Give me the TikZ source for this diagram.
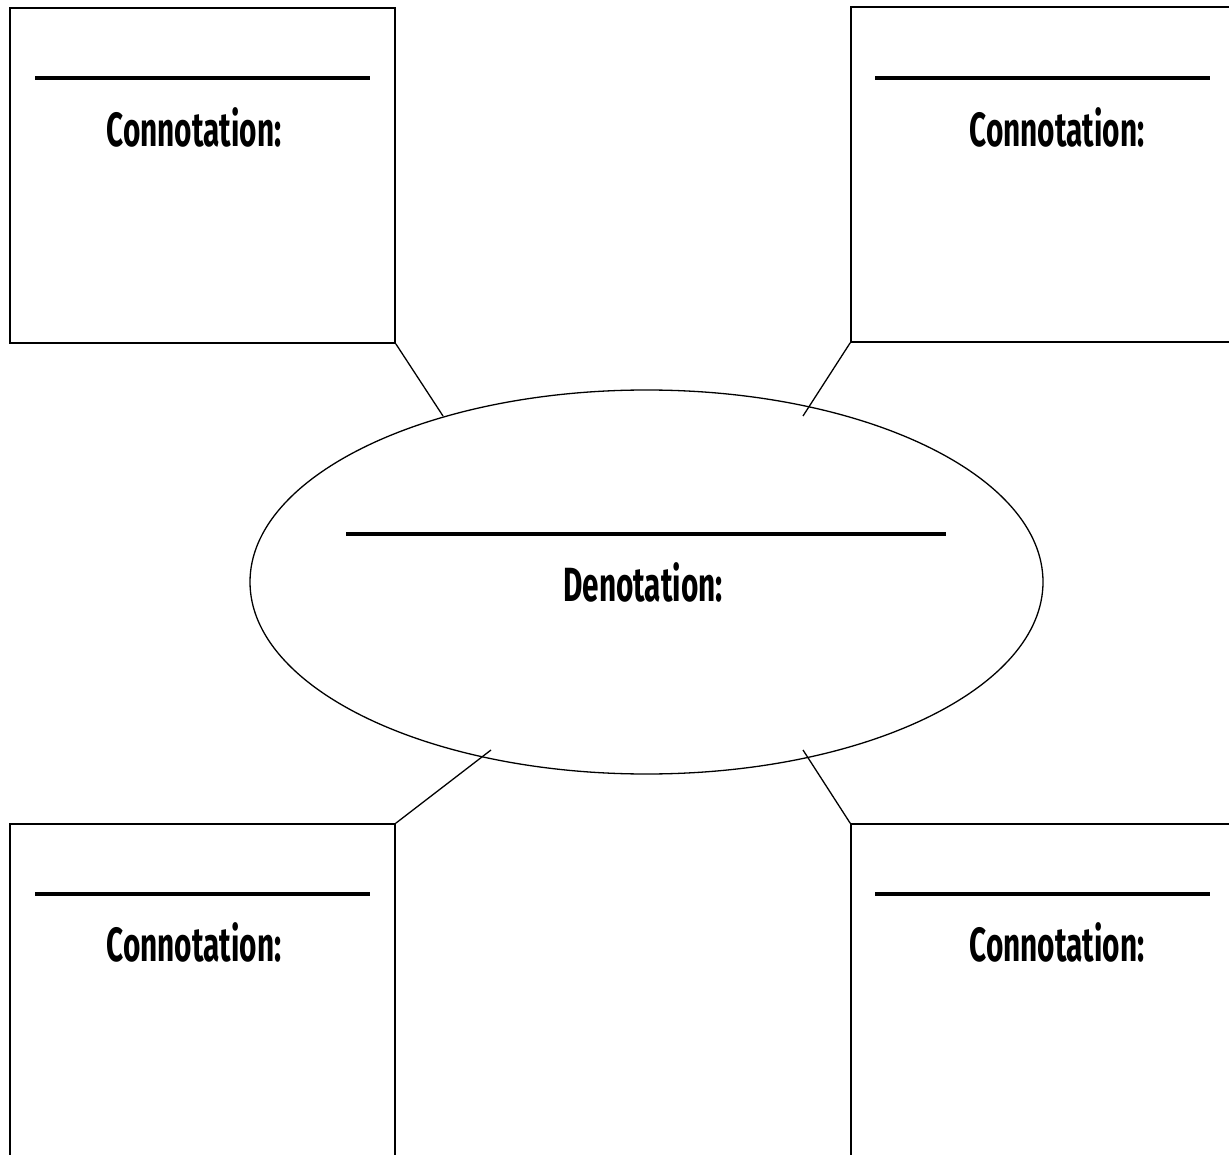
\documentclass[tikz,border=0pt]{standalone}
\usepackage{fontspec}
\setmainfont{Fira Sans}
\usetikzlibrary{shapes.geometric}
\begin{document}
\begin{tikzpicture}[x=1pt,y=-1pt,
    box_node/.style={draw,line width=1.6pt,minimum width=385pt,minimum height=335pt,inner sep=0pt},
    oval_node/.style={draw,ellipse,line width=1.3pt,minimum width=793pt,minimum height=384pt,inner sep=0pt},
    label_node/.style={font=\fontsize{48}{48}\selectfont\bfseries,xscale=0.62,inner sep=0pt},
    rule_line/.style={line width=3.5pt},
    link_line/.style={line width=1.3pt}]
    \useasboundingbox (0,0) rectangle (1229,1155);
    \clip (0,0) rectangle (1229,1155);
    \node[oval_node] (den) at (646.5,582) {};
    \node[box_node] (1) at (202.5,175.5) {};
    \node[box_node] (2) at (1043.5,174.5) {};
    \node[box_node] (3) at (202.5,991.5) {};
    \node[box_node] (4) at (1043.5,991.5) {};
    \coordinate (e1) at (443,416);
    \coordinate (e2) at (803,416);
    \coordinate (e3) at (491,750);
    \coordinate (e4) at (803,750);
    \draw[link_line] (1.south east) -- (e1);
    \draw[link_line] (2.south west) -- (e2);
    \draw[link_line] (3.north east) -- (e3);
    \draw[link_line] (4.north west) -- (e4);
    % blanks to write on
    \draw[rule_line] (35,78) -- (370,78);
    \draw[rule_line] (875,78) -- (1210,78);
    \draw[rule_line] (35,894) -- (370,894);
    \draw[rule_line] (875,894) -- (1210,894);
    \draw[rule_line] (346,534) -- (946,534);
    \node[label_node] (c1) at (194,127) {Connotation:};
    \node[label_node] (c2) at (1057,127) {Connotation:};
    \node[label_node] (c3) at (194,942) {Connotation:};
    \node[label_node] (c4) at (1057,942) {Connotation:};
    \node[label_node] (d) at (643,582) {Denotation:};
\end{tikzpicture}
\end{document}
